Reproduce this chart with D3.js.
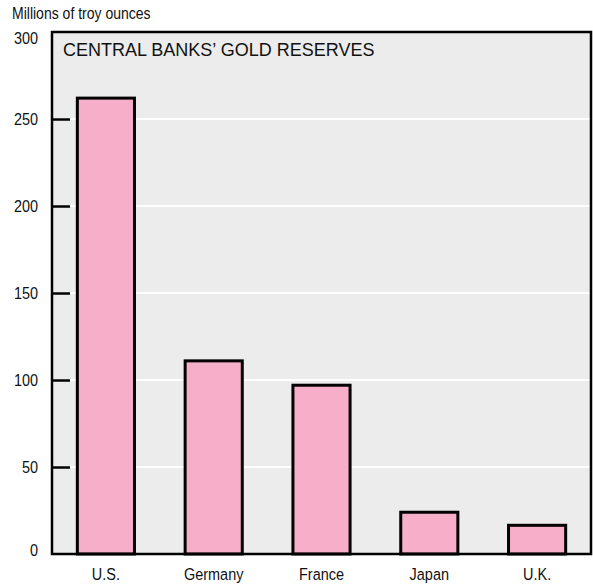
<!DOCTYPE html>
<html><head><meta charset="utf-8">
<script src="https://d3js.org/d3.v7.min.js"></script>
<style>body{margin:0;background:#fff}</style>
</head><body>
<script>
const categories = ["U.S.", "Germany", "France", "Japan", "U.K."];
const values = [262, 111, 97, 24, 16.5];
const yTicks = [0, 50, 100, 150, 200, 250, 300];
const title = "CENTRAL BANKS\u2019 GOLD RESERVES";
const yLabel = "Millions of troy ounces";

const W = 593, H = 586;
const m = {left: 52, right: 2, top: 32, bottom: 32};
const svg = d3.select("body").append("svg").attr("width", W).attr("height", H);
const font = "'Liberation Sans',Arial,sans-serif";
const sx = 0.85;

const x = d3.scaleBand().domain(categories).range([m.left, W - m.right]).paddingInner(0.47).paddingOuter(0.235);
const y = d3.scaleLinear().domain([0, 300]).range([H - m.bottom, m.top]);

svg.append("rect").attr("x", m.left).attr("y", m.top).attr("width", W - m.right - m.left).attr("height", H - m.bottom - m.top).attr("fill", "#ececec");

svg.append("g").selectAll("line").data(yTicks.filter(d => d > 0 && d < 300)).join("line")
  .attr("x1", m.left).attr("x2", W - m.right).attr("y1", d => y(d)).attr("y2", d => y(d))
  .attr("stroke", "#fff").attr("stroke-width", 2);

const yAxis = svg.append("g").attr("transform", `translate(${m.left},0)`)
  .call(d3.axisLeft(y).tickValues(yTicks).tickSize(-18));
yAxis.select(".domain").remove();
yAxis.selectAll(".tick line").attr("stroke", "#000").attr("stroke-width", 2.5).filter(d => d === 0 || d === 300).remove();
yAxis.selectAll(".tick text").attr("font-family", font).attr("font-size", 17).attr("fill", "#111")
  .attr("text-anchor", "end").attr("x", -14 / sx).attr("dy", "0.32em").attr("transform", `scale(${sx},1)`);
yAxis.selectAll(".tick text").filter(d => d === 300).attr("dy", "0.7em");
yAxis.selectAll(".tick text").filter(d => d === 0).attr("dy", "0.1em");

svg.append("g").selectAll("rect").data(values).join("rect")
  .attr("x", (d, i) => x(categories[i])).attr("width", x.bandwidth())
  .attr("y", d => y(d)).attr("height", d => y(0) - y(d))
  .attr("fill", "#f7aec8").attr("stroke", "#000").attr("stroke-width", 3);

svg.append("rect").attr("x", m.left).attr("y", m.top).attr("width", W - m.right - m.left).attr("height", H - m.bottom - m.top)
  .attr("fill", "none").attr("stroke", "#000").attr("stroke-width", 2.5);

const xAxis = svg.append("g").attr("transform", `translate(0,${H - m.bottom})`)
  .call(d3.axisBottom(x).tickSize(0).tickPadding(14));
xAxis.select(".domain").remove();
xAxis.selectAll(".tick text").attr("font-family", font).attr("font-size", 17).attr("fill", "#111")
  .attr("transform", `scale(${sx},1)`);

svg.append("text").attr("transform", `translate(12,19) scale(${sx},1)`).attr("font-family", font).attr("font-size", 16.5).attr("fill", "#111").text(yLabel);
svg.append("text").attr("x", 63).attr("y", 56).attr("font-family", font).attr("font-size", 18).attr("fill", "#111").text(title);
</script>
</body></html>
